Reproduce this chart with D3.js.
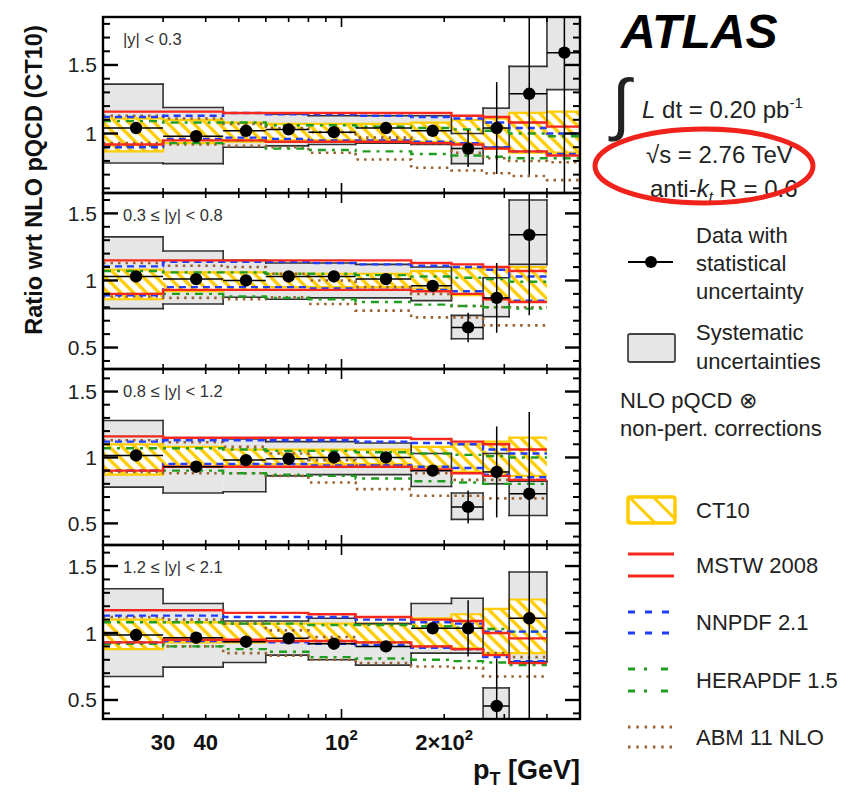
<!DOCTYPE html>
<html><head><meta charset="utf-8">
<script src="https://cdn.jsdelivr.net/npm/d3@7"></script>
<style>
body{margin:0;background:#fff}
svg{display:block}
text{font-family:"Liberation Sans",Arial,Helvetica,sans-serif}
</style>
</head><body>
<svg id="c" width="856" height="792"></svg>
<script>
// ---------------- data ----------------
const binEdges = [20,30,45,60,80,110,160,210,260,310,400,500];
const binCenters = [25,37.5,52.5,70,95,135,185,235,285,355,450];
const panelLabels = ["|y| < 0.3","0.3 ≤ |y| < 0.8","0.8 ≤ |y| < 1.2","1.2 ≤ |y| < 2.1"];
const yDomains = [[0.566,1.85],[0.34,1.652],[0.336,1.671],[0.358,1.657]];
const yTickLabels = [[1.5,1],[1.5,1,0.5],[1.5,1,0.5],[1.5,1,0.5]];
const xTickValues = [30,40,50,60,70,80,90,100,200,300,400];
const xTickLabels = [[30,"30"],[40,"40"],[100,"10|2"],[200,"2×10|2"]];

const dataRatio = [
  [1.04,0.98,1.02,1.03,1.01,1.04,1.02,0.89,1.04,1.29,1.59],
  [1.03,1.01,1.00,1.03,1.03,1.01,0.96,0.65,0.87,1.34],
  [1.015,0.93,0.98,0.99,1.00,1.00,0.90,0.625,0.89,0.725],
  [0.985,0.965,0.935,0.96,0.92,0.90,1.035,1.035,0.455,1.11]
];
const statErr = [
  [0.01,0.01,0.01,0.01,0.01,0.015,0.02,0.135,0.335,0.59,1.2],
  [0.01,0.01,0.01,0.01,0.01,0.015,0.02,0.11,0.26,0.6],
  [0.01,0.01,0.01,0.01,0.01,0.015,0.03,0.125,0.345,0.62],
  [0.01,0.01,0.01,0.01,0.01,0.015,0.03,0.21,0.355,0.8]
];
const sysHi = [
  [1.36,1.19,1.15,1.14,1.13,1.13,1.13,1.00,1.185,1.49,2.0],
  [1.325,1.22,1.15,1.13,1.13,1.12,1.10,0.74,1.02,1.60],
  [1.28,1.15,1.14,1.12,1.12,1.11,1.03,0.73,1.03,0.82],
  [1.33,1.22,1.09,1.09,1.11,1.07,1.22,1.26,0.59,1.455]
];
const sysLo = [
  [0.785,0.78,0.90,0.91,0.92,0.93,0.92,0.78,0.90,1.08,1.32],
  [0.79,0.825,0.875,0.86,0.87,0.87,0.85,0.565,0.73,1.12],
  [0.775,0.73,0.74,0.86,0.87,0.87,0.78,0.53,0.80,0.56],
  [0.675,0.745,0.78,0.835,0.80,0.76,0.85,0.85,0.30,0.785]
];
const ct10Hi = [
  [1.11,1.10,1.08,1.07,1.07,1.07,1.08,1.10,1.11,1.15,1.16],
  [1.08,1.06,1.06,1.05,1.05,1.05,1.07,1.09,1.08,1.10],
  [1.10,1.08,1.06,1.06,1.06,1.06,1.08,1.10,1.12,1.15],
  [1.10,1.08,1.07,1.07,1.07,1.07,1.11,1.14,1.18,1.25]
];
const ct10Lo = [
  [0.87,0.93,0.94,0.95,0.95,0.95,0.94,0.93,0.89,0.86,0.86],
  [0.86,0.92,0.93,0.95,0.95,0.95,0.94,0.89,0.86,0.84],
  [0.87,0.93,0.94,0.95,0.95,0.95,0.93,0.89,0.86,0.86],
  [0.88,0.93,0.93,0.94,0.94,0.93,0.90,0.885,0.85,0.85]
];
const mstwHi = [
  [1.16,1.16,1.15,1.15,1.15,1.15,1.15,1.13,1.12,1.08,1.05],
  [1.15,1.15,1.15,1.15,1.15,1.15,1.13,1.12,1.10,1.07],
  [1.16,1.15,1.15,1.15,1.15,1.15,1.14,1.12,1.10,1.06],
  [1.17,1.17,1.15,1.15,1.14,1.12,1.10,1.09,1.00,0.96]
];
const mstwLo = [
  [0.92,0.95,0.95,0.94,0.94,0.94,0.93,0.92,0.89,0.87,0.84],
  [0.90,0.93,0.93,0.93,0.93,0.93,0.92,0.90,0.86,0.84],
  [0.90,0.93,0.93,0.93,0.93,0.93,0.91,0.88,0.86,0.83],
  [0.93,0.95,0.95,0.94,0.94,0.93,0.90,0.88,0.835,0.775]
];
const nnpdfHi = [
  [1.12,1.13,1.15,1.14,1.14,1.13,1.12,1.11,1.08,1.04,1.00],
  [1.105,1.14,1.14,1.14,1.13,1.12,1.11,1.10,1.08,1.03],
  [1.12,1.13,1.13,1.13,1.13,1.12,1.11,1.10,1.06,1.03],
  [1.13,1.13,1.12,1.12,1.12,1.10,1.08,1.07,1.01,1.01]
];
const nnpdfLo = [
  [0.90,0.96,0.97,0.96,0.95,0.95,0.94,0.93,0.90,0.87,0.85],
  [0.89,0.95,0.95,0.95,0.94,0.93,0.93,0.92,0.865,0.85],
  [0.90,0.95,0.95,0.95,0.94,0.94,0.93,0.92,0.87,0.85],
  [0.93,0.94,0.94,0.93,0.92,0.91,0.89,0.88,0.82,0.79]
];
const heraHi = [
  [1.09,1.08,1.08,1.06,1.06,1.05,1.04,1.03,1.02,1.00,0.98],
  [1.07,1.06,1.06,1.05,1.05,1.04,1.03,1.02,1.01,0.99],
  [1.07,1.07,1.06,1.05,1.05,1.04,1.03,1.02,1.01,1.00],
  [1.08,1.08,1.07,1.07,1.06,1.06,1.05,1.04,1.03,1.01]
];
const heraLo = [
  [0.91,0.93,0.95,0.89,0.88,0.87,0.85,0.84,0.83,0.82,0.82],
  [0.90,0.90,0.88,0.87,0.86,0.84,0.82,0.81,0.80,0.79],
  [0.90,0.90,0.88,0.87,0.86,0.84,0.82,0.81,0.80,0.80],
  [0.92,0.90,0.88,0.86,0.82,0.81,0.80,0.79,0.78,0.76]
];
const abmHi = [
  [1.13,1.11,1.07,1.04,1.01,0.97,0.93,0.86,0.82,0.80,0.79],
  [1.13,1.11,1.10,1.05,1.00,0.95,0.90,0.81,0.80,0.80],
  [1.13,1.115,1.08,1.03,0.98,0.94,0.88,0.83,0.83,0.83],
  [1.12,1.10,1.07,1.02,0.97,0.93,0.90,0.88,0.85,0.82]
];
const abmLo = [
  [0.93,0.92,0.91,0.90,0.86,0.81,0.75,0.73,0.71,0.69,0.66],
  [0.88,0.87,0.86,0.875,0.825,0.775,0.725,0.725,0.665,0.665],
  [0.89,0.88,0.88,0.86,0.81,0.76,0.71,0.71,0.69,0.69],
  [0.93,0.90,0.85,0.83,0.80,0.775,0.75,0.74,0.675,0.675]
];

// ---------------- layout ----------------
const plotLeft = 103, plotRight = 580;
const panelTop = [17,193,369,545];
const panelBot = [193,369,545,719];

const svg = d3.select("#c");
const defs = svg.append("defs");
const YEL = "#ffcc00", RED = "#f5281c", BLUE = "#1f3cff", GREEN = "#1f9e22", BROWN = "#9a6333";

function hatch(id, sp, w) {
  const p = defs.append("pattern").attr("id", id).attr("patternUnits","userSpaceOnUse")
    .attr("width", sp).attr("height", sp).attr("patternTransform","rotate(-45)");
  p.append("rect").attr("width", sp).attr("height", sp).attr("fill", "#fff");
  p.append("line").attr("x1", sp/2).attr("y1", -1).attr("x2", sp/2).attr("y2", sp+1)
    .attr("stroke", YEL).attr("stroke-width", w);
}
hatch("hatch", 9, 3.4);
hatch("hatchL", 17, 3);

const x = d3.scaleLog().domain([20,500]).range([plotLeft, plotRight]);

const lineStyles = [
  {hi: abmHi, lo: abmLo, color: BROWN, dash: "2.5,5", w: 2.6},
  {hi: heraHi, lo: heraLo, color: GREEN, dash: "8,6,3,6", w: 2.4},
  {hi: nnpdfHi, lo: nnpdfLo, color: BLUE, dash: "7,5", w: 2.4},
  {hi: mstwHi, lo: mstwLo, color: RED, dash: null, w: 2.4}
];

function subtract(a, b, c, d) { // [a,b] minus [c,d]
  const out = [];
  const m1 = Math.min(b, c); if (m1 > a) out.push([a, m1]);
  const m2 = Math.max(a, d); if (b > m2) out.push([m2, b]);
  return out;
}

for (let p = 0; p < 4; p++) {
  const top = panelTop[p], bot = panelBot[p];
  const y = d3.scaleLinear().domain(yDomains[p]).range([bot, top]);
  const n = dataRatio[p].length;
  const idx = d3.range(n);
  defs.append("clipPath").attr("id", "clip" + p).append("rect")
    .attr("x", plotLeft).attr("y", top).attr("width", plotRight - plotLeft).attr("height", bot - top);
  const g = svg.append("g").attr("clip-path", `url(#clip${p})`);

  g.selectAll("rect.sys").data(idx).join("rect").attr("class","sys")
    .attr("x", i => x(binEdges[i])).attr("width", i => x(binEdges[i+1]) - x(binEdges[i]))
    .attr("y", i => y(sysHi[p][i])).attr("height", i => y(sysLo[p][i]) - y(sysHi[p][i]))
    .attr("fill", "#e6e6e6");

  const steps = arr => idx.flatMap(i => [[binEdges[i], arr[i]], [binEdges[i+1], arr[i]]]);
  const line = d3.line().x(d => x(d[0])).y(d => y(d[1]));

  const bandPts = idx.flatMap(i => [[binEdges[i], ct10Lo[p][i], ct10Hi[p][i]], [binEdges[i+1], ct10Lo[p][i], ct10Hi[p][i]]]);
  g.append("path").attr("d", d3.area().x(d => x(d[0])).y0(d => y(d[1])).y1(d => y(d[2]))(bandPts))
    .attr("fill", "url(#hatch)");
  [ct10Hi[p], ct10Lo[p]].forEach(arr => g.append("path").attr("d", line(steps(arr)))
    .attr("fill","none").attr("stroke", YEL).attr("stroke-width", 2.2));

  const segs = [];
  idx.forEach(i => {
    const lo = sysLo[p][i], hi = sysHi[p][i], x0 = binEdges[i], x1 = binEdges[i+1];
    segs.push([x0, hi, x1, hi]); segs.push([x0, lo, x1, lo]);
    const L = i > 0 ? subtract(lo, hi, sysLo[p][i-1], sysHi[p][i-1]) : [[lo, hi]];
    L.forEach(s => segs.push([x0, s[0], x0, s[1]]));
    const R = i < n-1 ? subtract(lo, hi, sysLo[p][i+1], sysHi[p][i+1]) : [[lo, hi]];
    R.forEach(s => segs.push([x1, s[0], x1, s[1]]));
  });
  g.selectAll("line.sysl").data(segs).join("line").attr("class","sysl")
    .attr("x1", d => x(d[0])).attr("y1", d => y(d[1])).attr("x2", d => x(d[2])).attr("y2", d => y(d[3]))
    .attr("stroke", "#333").attr("stroke-width", 1.6).attr("stroke-linecap","square");

  lineStyles.forEach(st => {
    [st.hi[p], st.lo[p]].forEach(arr => {
      const path = g.append("path").attr("d", line(steps(arr))).attr("fill","none")
        .attr("stroke", st.color).attr("stroke-width", st.w);
      if (st.dash) path.attr("stroke-dasharray", st.dash);
    });
  });

  const dg = g.append("g");
  idx.forEach(i => {
    const v = dataRatio[p][i], e = statErr[p][i];
    dg.append("line").attr("x1", x(binEdges[i])).attr("x2", x(binEdges[i+1])).attr("y1", y(v)).attr("y2", y(v))
      .attr("stroke", "#000").attr("stroke-width", 1.5);
    dg.append("line").attr("x1", x(binCenters[i])).attr("x2", x(binCenters[i])).attr("y1", y(v - e)).attr("y2", y(v + e))
      .attr("stroke", "#000").attr("stroke-width", 1.5);
    dg.append("circle").attr("cx", x(binCenters[i])).attr("cy", y(v)).attr("r", 6.2).attr("fill", "#000");
  });

  svg.append("rect").attr("x", plotLeft).attr("y", top).attr("width", plotRight - plotLeft).attr("height", bot - top)
    .attr("fill", "none").attr("stroke", "#000").attr("stroke-width", 2.4);

  const dmin = yDomains[p][0], dmax = yDomains[p][1];
  for (let k = Math.ceil(dmin * 10 - 1e-6); k <= Math.floor(dmax * 10 + 1e-6); k++) {
    const major = k % 5 === 0;
    const len = major ? 15 : 7;
    const yy = y(k / 10);
    svg.append("line").attr("x1", plotLeft).attr("x2", plotLeft + len).attr("y1", yy).attr("y2", yy)
      .attr("stroke", "#000").attr("stroke-width", major ? 2.4 : 2);
    svg.append("line").attr("x1", plotRight).attr("x2", plotRight - len).attr("y1", yy).attr("y2", yy)
      .attr("stroke", "#000").attr("stroke-width", major ? 2.4 : 2);
  }
  yTickLabels[p].forEach(v => {
    svg.append("text").attr("x", 97).attr("y", y(v) + 7.5).attr("text-anchor", "end")
      .attr("font-size", 21).attr("fill", "#222").text(String(v));
  });
  xTickValues.forEach(v => {
    const len = v === 100 ? 10 : 5;
    const xx = x(v);
    svg.append("line").attr("x1", xx).attr("x2", xx).attr("y1", top).attr("y2", top + len).attr("stroke", "#000").attr("stroke-width", 1.6);
    svg.append("line").attr("x1", xx).attr("x2", xx).attr("y1", bot).attr("y2", bot - len).attr("stroke", "#000").attr("stroke-width", 1.6);
  });
  svg.append("text").attr("x", 123).attr("y", top + 27.5).attr("font-size", 16.5).attr("fill", "#333")
    .text(panelLabels[p]);
}

xTickLabels.forEach(([v, lab]) => {
  const parts = lab.split("|");
  const t = svg.append("text").attr("x", x(v)).attr("y", 750).attr("text-anchor", "middle")
    .attr("font-size", 22).attr("font-weight", "bold").attr("fill", "#111");
  t.append("tspan").text(parts[0]);
  if (parts[1]) t.append("tspan").attr("dy", -10).attr("font-size", 15).text(parts[1]);
});

const xt = svg.append("text").attr("x", 580).attr("y", 779).attr("text-anchor", "end")
  .attr("font-size", 27).attr("font-weight", "bold").attr("fill", "#111");
xt.append("tspan").text("p");
xt.append("tspan").attr("dy", 6).attr("font-size", 18).text("T");
xt.append("tspan").attr("dy", -6).text(" [GeV]");

svg.append("text").attr("transform", "translate(42,180) rotate(-90)").attr("text-anchor", "middle")
  .attr("font-size", 23.5).attr("font-weight", "bold").attr("fill", "#111").text("Ratio wrt NLO pQCD (CT10)");

// ---------------- legend / labels ----------------
svg.append("text").attr("x", 621).attr("y", 48).attr("font-size", 48).attr("font-weight", "bold")
  .attr("font-style", "italic").attr("fill", "#000").text("ATLAS");

svg.append("text").attr("x", 612).attr("y", 127).attr("font-size", 68).attr("font-family", "DejaVu Sans")
  .attr("font-weight", "200").attr("fill", "#222").text("∫");
const lum = svg.append("text").attr("x", 642).attr("y", 118).attr("font-size", 24).attr("fill", "#222");
lum.append("tspan").attr("font-style", "italic").text("L");
lum.append("tspan").text(" dt = 0.20 pb");
lum.append("tspan").attr("dy", -10).attr("font-size", 15).text("-1");

svg.append("text").attr("x", 646).attr("y", 163).attr("font-size", 24).attr("fill", "#222").text("√s = 2.76 TeV");
const ak = svg.append("text").attr("x", 650).attr("y", 197).attr("font-size", 24).attr("fill", "#222");
ak.append("tspan").text("anti-");
ak.append("tspan").attr("font-style", "italic").text("k");
ak.append("tspan").attr("font-style", "italic").attr("font-size", 15).attr("dy", 5).text("t");
ak.append("tspan").attr("dy", -5).text(" R = 0.6");

svg.append("ellipse").attr("cx", 704).attr("cy", 166).attr("rx", 109).attr("ry", 37)
  .attr("fill", "none").attr("stroke", "#f0221c").attr("stroke-width", 5);

const legFont = 22, legX = 696, tcol = "#222";
svg.append("line").attr("x1", 628).attr("x2", 673).attr("y1", 262).attr("y2", 262).attr("stroke", "#000").attr("stroke-width", 1.8);
svg.append("circle").attr("cx", 651).attr("cy", 262).attr("r", 6).attr("fill", "#000");
[["Data with", 243], ["statistical", 271], ["uncertainty", 299]].forEach(([t, yy]) =>
  svg.append("text").attr("x", legX).attr("y", yy).attr("font-size", legFont).attr("fill", tcol).text(t));
svg.append("rect").attr("x", 628).attr("y", 334).attr("width", 47).attr("height", 28).attr("rx", 2)
  .attr("fill", "#e6e6e6").attr("stroke", "#444").attr("stroke-width", 1.8);
[["Systematic", 340], ["uncertainties", 369]].forEach(([t, yy]) =>
  svg.append("text").attr("x", legX).attr("y", yy).attr("font-size", legFont).attr("fill", tcol).text(t));
[["NLO pQCD ⊗", 408], ["non-pert. corrections", 436]].forEach(([t, yy]) =>
  svg.append("text").attr("x", 620).attr("y", yy).attr("font-size", legFont).attr("fill", tcol).text(t));
svg.append("rect").attr("x", 628).attr("y", 497).attr("width", 47).attr("height", 26).attr("rx", 2)
  .attr("fill", "url(#hatchL)").attr("stroke", YEL).attr("stroke-width", 3.5);
svg.append("text").attr("x", legX).attr("y", 518).attr("font-size", legFont).attr("fill", tcol).text("CT10");
const legLines = [
  {name: "MSTW 2008", color: RED, dash: null, y: [554, 576], ty: 573},
  {name: "NNPDF 2.1", color: BLUE, dash: "7,10", y: [612, 633], ty: 630},
  {name: "HERAPDF 1.5", color: GREEN, dash: "7,9,3,14", y: [669, 691], ty: 688},
  {name: "ABM 11 NLO", color: BROWN, dash: "2.5,5.8", y: [727, 747], ty: 745}
];
legLines.forEach(l => {
  l.y.forEach(yy => {
    const ln = svg.append("line").attr("x1", 628).attr("x2", 674).attr("y1", yy).attr("y2", yy)
      .attr("stroke", l.color).attr("stroke-width", 3);
    if (l.dash) ln.attr("stroke-dasharray", l.dash);
  });
  svg.append("text").attr("x", legX).attr("y", l.ty).attr("font-size", legFont).attr("fill", tcol).text(l.name);
});
</script>
</body></html>
